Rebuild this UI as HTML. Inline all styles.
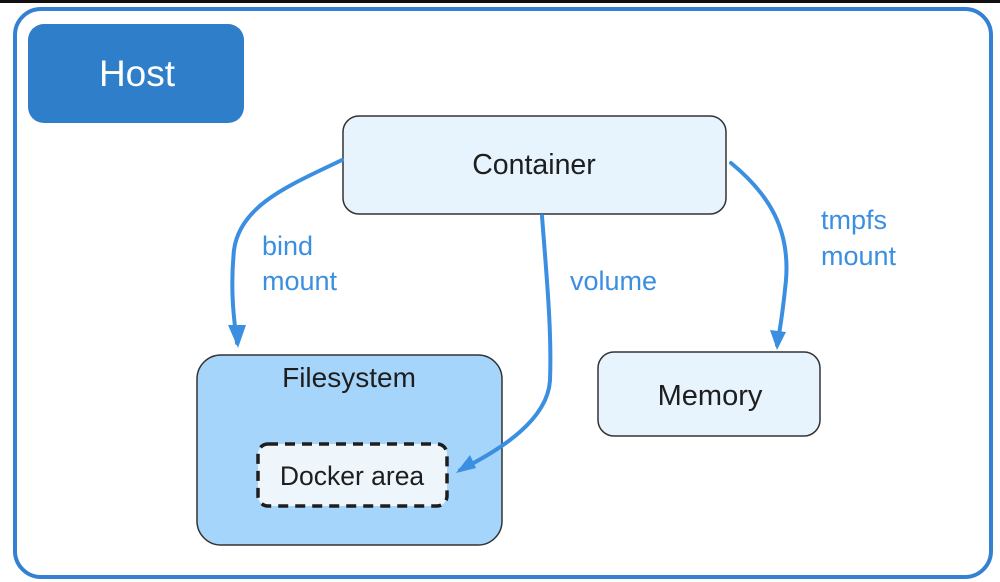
<!DOCTYPE html>
<html><head><meta charset="utf-8"><style>
html,body{margin:0;padding:0;background:#fff;}
svg{display:block;}
text{font-family:"Liberation Sans",sans-serif;}
</style></head><body>
<svg width="1000" height="582" viewBox="0 0 1000 582" xmlns="http://www.w3.org/2000/svg">
<rect x="0" y="0" width="1000" height="582" fill="#fff"/>
<rect x="0" y="0" width="1000" height="3" fill="#111"/>
<rect x="15" y="9" width="976" height="568" rx="26" fill="#fff" stroke="#3481d1" stroke-width="4"/>
<rect x="28" y="24" width="216" height="99" rx="16" fill="#2f7ec9"/>
<text x="137" y="86" font-size="37" fill="#fff" text-anchor="middle">Host</text>
<rect x="343" y="116" width="383" height="98" rx="16" fill="#e7f3fd" stroke="#333" stroke-width="1.5"/>
<text x="534" y="174" font-size="28.5" fill="#1e1e1e" text-anchor="middle">Container</text>
<rect x="197" y="355" width="305" height="190" rx="24" fill="#a5d5fa" stroke="#333" stroke-width="1.5"/>
<text x="349" y="387" font-size="28" fill="#1e1e1e" text-anchor="middle">Filesystem</text>
<rect x="258" y="444" width="189" height="62" rx="10" fill="#eef6fc" stroke="#1e1e1e" stroke-width="3.5" stroke-dasharray="10 7"/>
<text x="352" y="485" font-size="26.5" fill="#1e1e1e" text-anchor="middle">Docker area</text>
<rect x="598" y="352" width="222" height="84" rx="16" fill="#e7f3fd" stroke="#333" stroke-width="1.5"/>
<text x="710" y="405" font-size="29" fill="#1e1e1e" text-anchor="middle">Memory</text>
<g fill="none" stroke="#3b8fe0" stroke-width="4" stroke-linecap="round">
<path d="M342 160 C290 185 240 205 234 250 C230 290 234 320 237 343"/>
<path d="M542 216 C546 270 552 330 550 380 C548 420 500 450 460 470"/>
<path d="M731 163 C770 195 790 230 786 280 C783 310 780 330 777 345"/>
</g>
<g fill="#3b8fe0">
<polygon points="228,325 246,325 238,348"/>
<polygon points="770,330 786,332 777,350"/>
<polygon points="456,473 470,455 476,468"/>
</g>
<g font-size="27" fill="#3b8fe0">
<text x="262" y="255">bind</text>
<text x="262" y="290">mount</text>
<text x="570" y="290">volume</text>
<text x="821" y="229">tmpfs</text>
<text x="821" y="265">mount</text>
</g>
</svg>
</body></html>
